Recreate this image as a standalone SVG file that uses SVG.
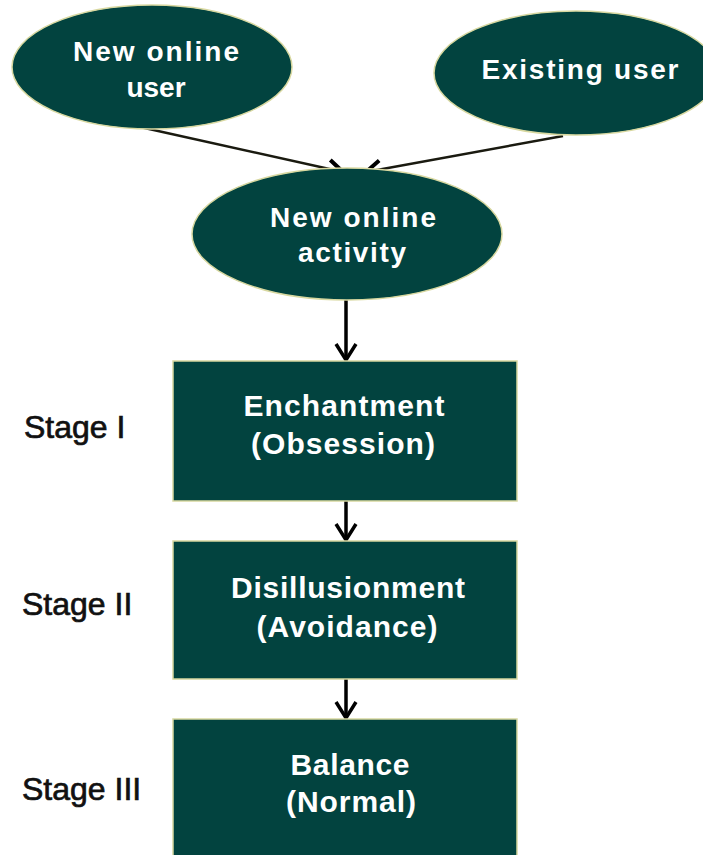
<svg xmlns="http://www.w3.org/2000/svg" width="703" height="855" viewBox="0 0 703 855">
<style>
.node{fill:#02433f;stroke:#d8d8a0;stroke-width:1.5}
.wt{fill:#ffffff;font-family:"Liberation Sans",Arial,sans-serif;font-weight:bold;text-anchor:middle}
.st{fill:#111;stroke:#111;stroke-width:0.7;font-family:"Liberation Sans",Arial,sans-serif;font-size:32px}
.conn{stroke:#000;stroke-width:3.5;fill:none}
.diag{stroke:#1a1a10;stroke-width:2.5;fill:none}
</style>
<defs>
<marker id="arr" markerWidth="24" markerHeight="24" refX="18" refY="12" orient="auto" markerUnits="userSpaceOnUse">
<path d="M2,2 L18,12 L2,22" fill="none" stroke="#000" stroke-width="3.5"/>
</marker>
<marker id="arr2" markerWidth="24" markerHeight="24" refX="17" refY="12" orient="auto" markerUnits="userSpaceOnUse">
<path d="M2,3 L17,12 L2,21" fill="none" stroke="#000" stroke-width="4"/>
</marker>
</defs>
<rect width="703" height="855" fill="#ffffff"/>
<g id="connectors">
<line class="diag" x1="140" y1="127" x2="343" y2="172" marker-end="url(#arr2)"/>
<line class="diag" x1="563" y1="136" x2="366" y2="172" marker-end="url(#arr2)"/>
<line class="conn" x1="346" y1="300" x2="346" y2="360" marker-end="url(#arr)"/>
<line class="conn" x1="346" y1="501" x2="346" y2="540" marker-end="url(#arr)"/>
<line class="conn" x1="346" y1="679" x2="346" y2="718" marker-end="url(#arr)"/>
</g>
<g id="new-online-user">
<ellipse class="node" cx="152" cy="67" rx="140" ry="62"/>
<text class="wt" x="156" y="61" font-size="28" textLength="166" lengthAdjust="spacing">New online</text>
<text class="wt" x="156" y="97" font-size="28">user</text>
</g>
<g id="existing-user">
<ellipse class="node" cx="576" cy="73" rx="142" ry="62"/>
<text class="wt" x="580" y="79" font-size="28" textLength="197" lengthAdjust="spacing">Existing user</text>
</g>
<g id="new-online-activity">
<ellipse class="node" cx="347" cy="234" rx="155" ry="66"/>
<text class="wt" x="353" y="227" font-size="28" textLength="166" lengthAdjust="spacing">New online</text>
<text class="wt" x="352" y="262" font-size="28" textLength="108" lengthAdjust="spacing">activity</text>
</g>
<g id="stage1">
<rect class="node" x="173" y="361" width="344" height="140"/>
<text class="wt" x="344" y="416" font-size="30" textLength="201" lengthAdjust="spacing">Enchantment</text>
<text class="wt" x="343" y="454" font-size="30" textLength="184" lengthAdjust="spacing">(Obsession)</text>
<text class="st" x="24" y="438">Stage I</text>
</g>
<g id="stage2">
<rect class="node" x="173" y="541" width="344" height="138"/>
<text class="wt" x="348" y="598" font-size="30" textLength="234" lengthAdjust="spacing">Disillusionment</text>
<text class="wt" x="347" y="637" font-size="30" textLength="181" lengthAdjust="spacing">(Avoidance)</text>
<text class="st" x="22" y="615">Stage II</text>
</g>
<g id="stage3">
<rect class="node" x="173" y="719" width="344" height="145"/>
<text class="wt" x="350" y="775" font-size="30" textLength="119" lengthAdjust="spacing">Balance</text>
<text class="wt" x="351" y="812" font-size="30" textLength="130" lengthAdjust="spacing">(Normal)</text>
<text class="st" x="22" y="800">Stage III</text>
</g>
</svg>
